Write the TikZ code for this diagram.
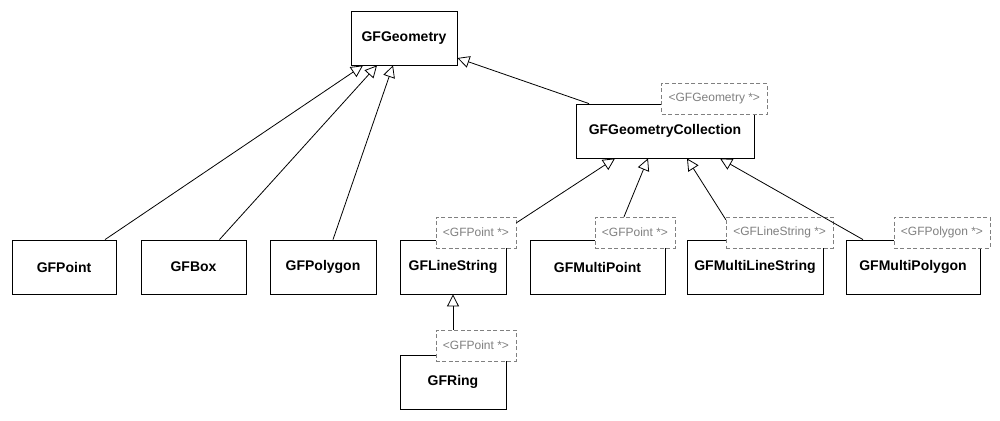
\documentclass[tikz,border=0pt]{standalone}
\usepackage{fontspec}
\setmainfont{Liberation Sans}
\usetikzlibrary{arrows.meta}
\begin{document}
\begin{tikzpicture}[x=1pt, y=-1pt, line width=0.8pt,
    >={Triangle[open, length=12pt, width=12pt]},
    cls/.style={draw, fill=white, font=\bfseries\fontsize{14}{16}\selectfont,
      minimum width=106pt, minimum height=54pt, inner sep=0pt},
    tmpl/.style={draw=gray, dash pattern=on 4pt off 2.5pt, fill=white, text=gray,
      font=\fontsize{12}{14}\selectfont, minimum height=31pt, inner xsep=7pt,
      inner ysep=0pt, anchor=south east, xshift=10pt, yshift=-9pt}]
  \useasboundingbox (0,0) rectangle (1000,420);
  \node[cls] (geom) at (404,38) {GFGeometry};
  \node[cls, minimum width=178pt] (coll) at (665,131) {GFGeometryCollection};
  \node[tmpl, xshift=3pt, yshift=-2pt] (collT) at (coll.north east) {<GFGeometry *>};
  \node[cls, minimum width=104pt] (point) at (64,267) {GFPoint};
  \node[cls, minimum width=105pt] (box) at (193.5,267) {GFBox};
  \node[cls] (polygon) at (323,267) {GFPolygon};
  \node[cls] (ls) at (453,267) {GFLineString};
  \node[tmpl] (lsT) at (ls.north east) {<GFPoint *>};
  \node[cls, minimum width=135pt] (mpoint) at (597.5,267) {GFMultiPoint};
  \node[tmpl] (mpointT) at (mpoint.north east) {<GFPoint *>};
  \node[cls, minimum width=136pt] (mls) at (755,267) {GFMultiLineString};
  \node[tmpl] (mlsT) at (mls.north east) {<GFLineString *>};
  \node[cls, minimum width=134pt] (mpoly) at (913,267) {GFMultiPolygon};
  \node[tmpl] (mpolyT) at (mpoly.north east) {<GFPolygon *>};
  \node[cls] (ring) at (453,382) {GFRing};
  \node[tmpl, yshift=2pt] (ringT) at (ring.north east) {<GFPoint *>};
  \draw[->] ([xshift=41pt]point.north) -- ([xshift=-41pt]geom.south);
  \draw[->] ([xshift=26pt]box.north) -- ([xshift=-27pt]geom.south);
  \draw[->] ([xshift=10pt]polygon.north) -- ([xshift=-11pt]geom.south);
  \draw[->] ([xshift=-76pt]coll.north) -- ([yshift=-20pt]geom.east);
  \draw[->] ([yshift=-6pt]lsT.north east) -- ([xshift=-50pt]coll.south);
  \draw[->] ([xshift=-11pt]mpointT.north) -- ([xshift=-17pt]coll.south);
  \draw[->] ([yshift=-3pt]mlsT.north west) -- ([xshift=22pt]coll.south);
  \draw[->] ([xshift=-50pt]mpoly.north) -- ([xshift=55pt]coll.south);
  \draw[->] (ls.south |- ringT.north) -- (ls.south);
\end{tikzpicture}
\end{document}
